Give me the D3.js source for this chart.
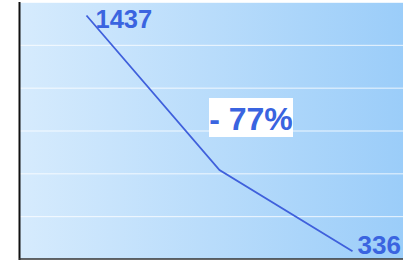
<!DOCTYPE html>
<html>
<head>
<meta charset="utf-8">
<script src="https://cdn.jsdelivr.net/npm/d3@7"></script>
<style>
  body { margin: 0; background: #fff; }
  svg { display: block; }
</style>
</head>
<body>
<svg id="chart" width="403" height="262"></svg>
<script>
// chart data
var categories = ["A", "B", "C"];
var values = [1437, 715, 336];
var yTicks = [300, 500, 700, 900, 1100, 1300, 1500];
var changeLabel = "- 77%";

function drawChart()
{
    var svg = d3.select("#chart");
    var m = {left: 20, top: 2, bottom: 259, right: 403};

    var x = d3.scalePoint().domain(categories).range([m.left, 419]).padding(0.5);
    var y = d3.scaleLinear().domain([300, 1500]).range([m.bottom, m.top]);

    var grad = svg.append("defs").append("linearGradient").attr("id", "bg")
        .attr("x1", "0%").attr("x2", "100%").attr("y1", "0%").attr("y2", "0%");
    grad.append("stop").attr("offset", "0%").attr("stop-color", "#d6ebfd");
    grad.append("stop").attr("offset", "100%").attr("stop-color", "#9bcdf9");

    svg.append("rect")
        .attr("x", m.left).attr("y", m.top)
        .attr("width", m.right - m.left).attr("height", m.bottom - m.top)
        .attr("fill", "url(#bg)");

    // gridlines
    svg.append("g")
        .attr("transform", "translate(" + m.left + ",0)")
        .call(d3.axisLeft(y).tickValues(yTicks).tickSize(-(m.right - m.left)).tickFormat(""))
        .call(function(g) {
            g.select(".domain").remove();
            g.selectAll(".tick line").attr("stroke", "#ffffff").attr("stroke-opacity", 0.8);
        });

    // axis lines
    svg.append("line").attr("x1", m.left - 0.5).attr("x2", m.left - 0.5)
        .attr("y1", m.top).attr("y2", m.bottom + 1)
        .attr("stroke", "#111").attr("stroke-width", 2);
    svg.append("line").attr("x1", m.left - 1).attr("x2", m.right)
        .attr("y1", m.bottom).attr("y2", m.bottom)
        .attr("stroke", "#333").attr("stroke-width", 1.5);

    var line = d3.line()
        .x(function(d, i) { return x(categories[i]); })
        .y(function(d) { return y(d); });

    svg.append("path")
        .datum(values)
        .attr("d", line)
        .attr("fill", "none")
        .attr("stroke", "#3f60dc")
        .attr("stroke-width", 1.8);

    var font = "'Liberation Sans', Arial, sans-serif";

    svg.append("text")
        .attr("x", x(categories[0]) + 9)
        .attr("y", 28)
        .attr("font-family", font).attr("font-weight", "bold").attr("font-size", 25.5)
        .attr("fill", "#3a64e0")
        .text(values[0]);

    svg.append("text")
        .attr("x", x(categories[2]) + 5)
        .attr("y", 254)
        .attr("font-family", font).attr("font-weight", "bold").attr("font-size", 26)
        .attr("fill", "#3a64e0")
        .text(values[2]);

    // change box
    svg.append("rect")
        .attr("x", 209).attr("y", 98).attr("width", 84).attr("height", 39)
        .attr("fill", "#ffffff");
    svg.append("text")
        .attr("x", 251).attr("y", 130)
        .attr("text-anchor", "middle")
        .attr("font-family", font).attr("font-weight", "bold").attr("font-size", 32)
        .attr("fill", "#3a64e0")
        .text(changeLabel);
}

drawChart();
</script>
</body>
</html>
